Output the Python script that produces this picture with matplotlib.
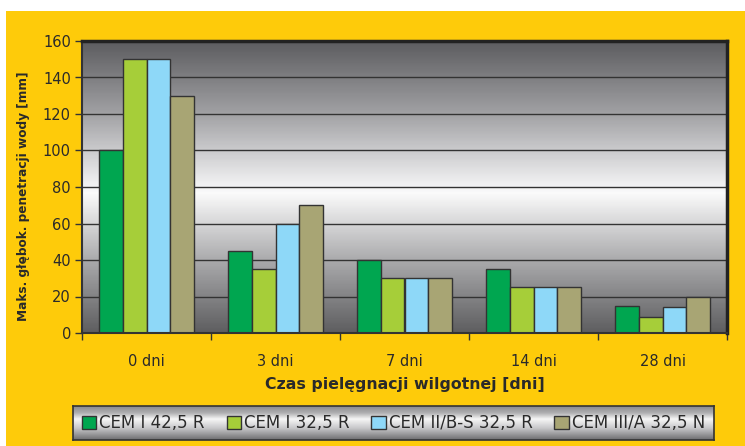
import numpy as np
import matplotlib.pyplot as plt
from matplotlib.patches import Rectangle, Patch
from matplotlib.colors import LinearSegmentedColormap

categories = ['0 dni', '3 dni', '7 dni', '14 dni', '28 dni']
series_names = ['CEM I 42,5 R', 'CEM I 32,5 R', 'CEM II/B-S 32,5 R', 'CEM III/A 32,5 N']
cem_i_425 = [100, 45, 40, 35, 15]
cem_i_325 = [150, 35, 30, 25, 9]
cem_ii_bs = [150, 60, 30, 25, 14]
cem_iii_a = [130, 70, 30, 25, 20]
series = [cem_i_425, cem_i_325, cem_ii_bs, cem_iii_a]
colors = ['#00a650', '#a6ce39', '#8ed8f8', '#a8a574']

yellow = '#fecb0a'
txt = '#2a2a2a'

fig = plt.figure(figsize=(7.45, 4.46), dpi=100)
fig.patch.set_facecolor('white')
fig.patches.append(Rectangle((6 / 745, 0), 1, 1 - 11 / 446, transform=fig.transFigure,
                             facecolor=yellow, edgecolor='none', zorder=-10))

ax = fig.add_axes([82 / 745, 1 - 333 / 446, (727 - 82) / 745, (333 - 41) / 446])

# gray gradient behind the bars, lightest just below the 80 line
grad_cmap = LinearSegmentedColormap.from_list(
    'bg', [(0.0, '#5e5e60'), (0.25, '#ababad'), (0.48, '#fbfbfb'), (0.50, '#f4f4f5'),
           (0.62, '#cdcdcf'), (0.75, '#a2a2a5'), (0.88, '#7e7e81'), (1.0, '#5d5d60')])
g = np.linspace(0, 1, 300).reshape(-1, 1)
ax.imshow(g, cmap=grad_cmap, aspect='auto', extent=[-0.5, 4.5, 0, 160],
          origin='lower', zorder=0, interpolation='bilinear')

x = np.arange(len(categories))
w = 0.186
for j, (vals, c) in enumerate(zip(series, colors)):
    ax.bar(x + (j - 1.5) * w, vals, width=w, color=c, edgecolor='#333333',
           linewidth=1.0, zorder=2, label=series_names[j])

ax.set_xlim(-0.5, 4.5)
ax.set_ylim(0, 160)
ax.set_yticks(range(0, 161, 20))
ax.yaxis.grid(True, color='#333333', linewidth=1.0, zorder=1)
ax.set_axisbelow(True)

ax.set_xticks(x)
ax.set_xticklabels(categories)
ax.set_xticks(np.arange(-0.5, 4.6, 1), minor=True)
ax.tick_params(axis='x', which='major', length=0, pad=15, labelsize=10.5, labelcolor=txt)
ax.tick_params(axis='x', which='minor', length=5, width=1, color='#333333', direction='out')
ax.tick_params(axis='y', length=5, width=1, color='#333333', labelsize=10.5,
               labelcolor=txt, pad=3)

for s in ['left', 'bottom']:
    ax.spines[s].set_linewidth(1.5)
    ax.spines[s].set_color('#333333')
for s in ['top', 'right']:
    ax.spines[s].set_linewidth(2.5)
    ax.spines[s].set_color('#222222')

ax.set_xlabel('Czas pielęgnacji wilgotnej [dni]', fontsize=11.3, fontweight='bold',
              color=txt, labelpad=6)
fig.text(24 / 745, 1 - 196 / 446, 'Maks. głębok. penetracji wody [mm]', rotation=90,
         fontsize=8.7, fontweight='bold', color=txt, ha='center', va='center')

# legend box with metallic gradient
lax = fig.add_axes([73 / 745, 1 - 440 / 446, (714 - 73) / 745, (440 - 406) / 446])
lcmap = LinearSegmentedColormap.from_list(
    'leg', [(0.0, '#6e6e70'), (0.35, '#c8c8ca'), (0.62, '#f6f6f6'), (0.8, '#b0b0b2'),
            (1.0, '#8a8a8c')])
lax.imshow(np.linspace(0, 1, 100).reshape(-1, 1), cmap=lcmap, aspect='auto',
           extent=[0, 1, 0, 1], origin='lower', interpolation='bilinear')
lax.set_xlim(0, 1)
lax.set_ylim(0, 1)
lax.set_xticks([])
lax.set_yticks([])
for s in lax.spines.values():
    s.set_linewidth(1.2)
    s.set_color('#333333')

handles = [Patch(facecolor=c, edgecolor='#333333', linewidth=1) for c in colors]
lax.legend(handles, series_names, loc='center', ncol=4, frameon=False,
           fontsize=12, handlelength=0.85, handleheight=0.85, handletextpad=0.2,
           columnspacing=1.3, labelcolor=txt, borderaxespad=0)

fig.savefig('out.png', dpi=100)
